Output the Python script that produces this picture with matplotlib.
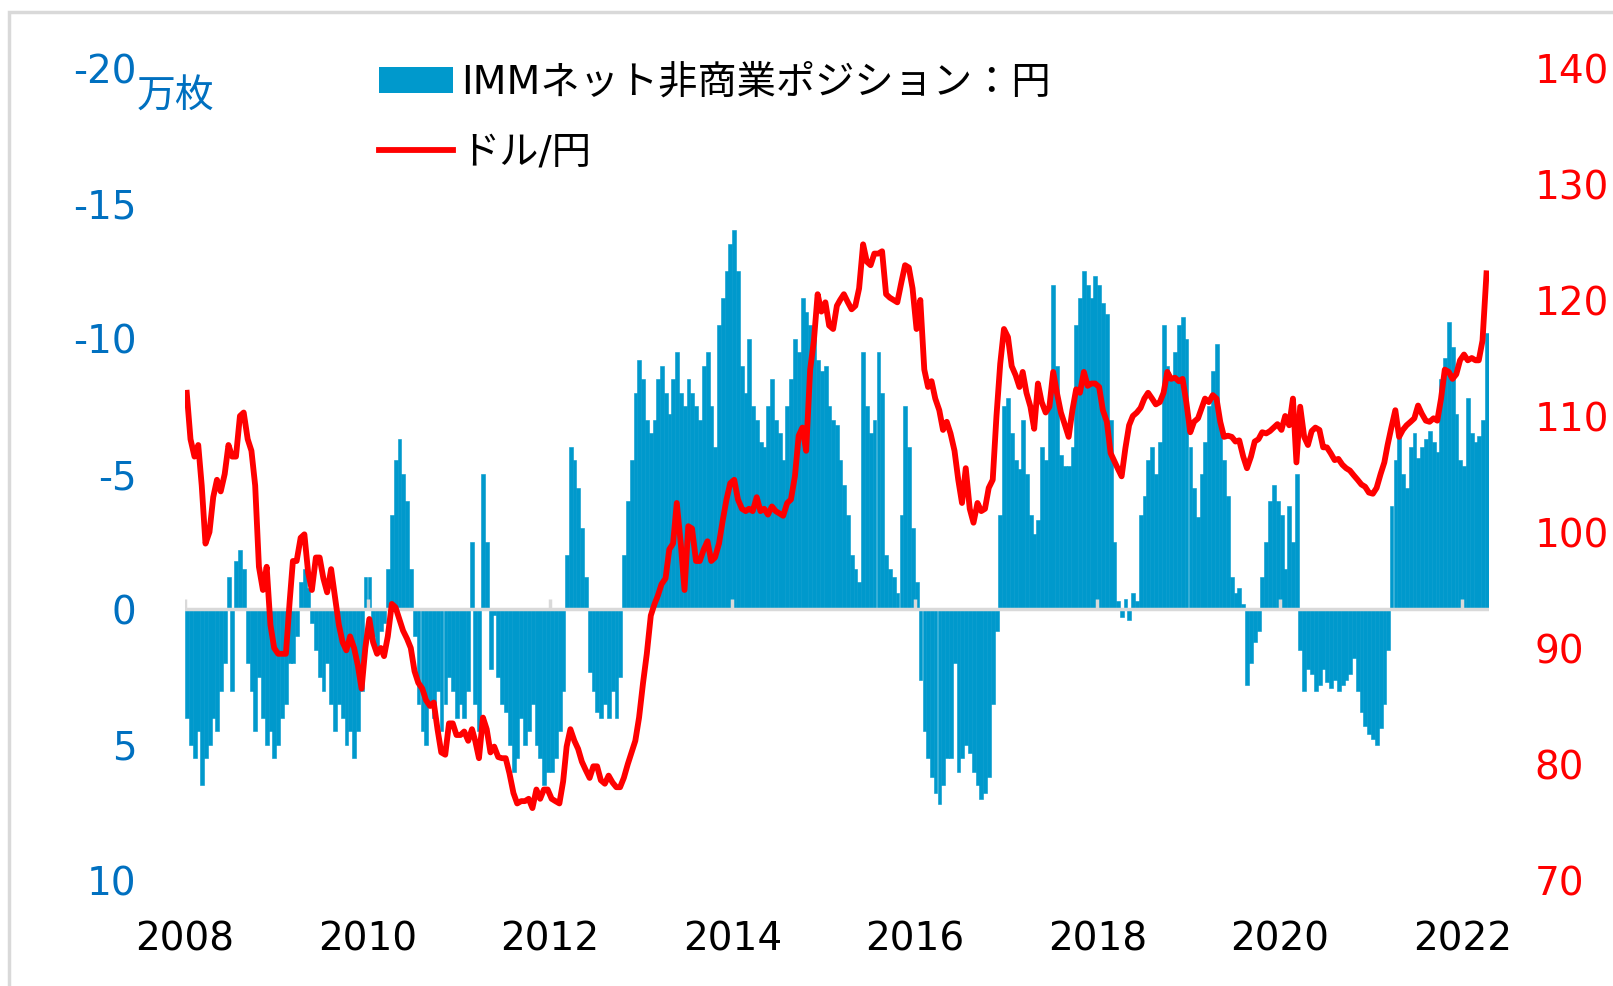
import matplotlib
matplotlib.use('Agg')
import matplotlib.pyplot as plt
import pandas as pd
from matplotlib.patches import Rectangle, Patch
from matplotlib.lines import Line2D

# 日本語フォント（数字・英字はDejaVu、かなはNoto CJK）
plt.rcParams['font.family'] = ['DejaVu Sans', 'Noto Sans CJK JP']
plt.rcParams['axes.unicode_minus'] = False

# IMM円ネット非商業ポジション（万枚, マイナス=円売り越し）, 半月ごと（1日・16日）
imm_net = [
    4, 5, 5.5, 4.5, 6.5, 5.5, 5, 4, 4.5, 3, 2, -1.2, 3, -1.8, -2.2, -1.5, 2, 3, 4.5, 2.5, 4, 5, 4.5, 5.5,  # 2008
    5, 4, 3.5, 2, 2, 1, -1, -1.5, -0.8, 0.5, 1.5, 2.5, 3, 2, 3.5, 4.5, 3.5, 4, 5, 4.5, 5.5, 4.5, 3, -1.2,  # 2009
    -1.2, 1, 1.5, 0.8, 0.5, -1.5, -3.5, -5.5, -6.3, -5, -4, -1.5, 1, 3.5, 4.5, 5, 3.5, 4, 3, 4.5, 3.5, 2.5, 3, 4,  # 2010
    3.5, 4, 3, -2.5, 3.5, 4.5, -5, -2.5, 2.2, 0.2, 2.5, 3.5, 3.8, 5, 6, 5.5, 4, 5, 4.5, 3.5, 5, 5.5, 6.5, 6,  # 2011
    6, 5.5, 4.5, 3, -2, -6, -5.5, -4.5, -3, -1.2, 2.3, 3, 3.8, 4, 3.5, 4, 3, 4, 2.5, -2, -4, -5.5, -8, -9.2,  # 2012
    -8.5, -7, -6.5, -7, -8.5, -9, -8, -7.2, -8.5, -9.5, -8, -7.5, -8.5, -8, -7.5, -7, -9, -9.5, -7.5, -6, -10.5, -11.5, -12.5, -13.5,  # 2013
    -14, -12.5, -9, -8, -10, -7.5, -7, -6.2, -6, -7.5, -8.5, -7, -6.5, -5.5, -7.5, -8.5, -10, -9.5, -11.5, -11, -10.5, -10, -9.2, -8.8,  # 2014
    -9, -7.5, -7, -6.8, -5.5, -4.6, -3.5, -2, -1.5, -1, -9.5, -7.5, -6.5, -7, -9.5, -8, -2, -1.5, -1.2, -0.6, -3.5, -7.5, -6, -3,  # 2015
    -1, 2.6, 4.5, 5.5, 6.2, 6.8, 7.2, 6.5, 5.5, 5.5, 2, 6, 5.5, 5, 5.3, 6, 6.5, 7, 6.8, 6.2, 3.5, 0.8, -3.5, -7.5,  # 2016
    -7.8, -6.5, -5.5, -5.2, -7, -5, -3.5, -2.8, -3.3, -6, -5.5, -7.5, -12, -9, -5.7, -5.3, -5.3, -6, -10.5, -11.5, -12.5, -12, -11.5, -12.3,  # 2017
    -12, -11.3, -10.9, -7, -2.5, -0.3, 0.3, -0.4, 0.4, -0.6, -0.3, -3.5, -4.2, -5.5, -6, -5, -6.2, -10.5, -9, -8.5, -9.5, -10.5, -10.8, -10,  # 2018
    -6, -4.5, -3.4, -5, -6.2, -7.5, -8.8, -9.8, -7, -5.5, -4.2, -1.2, -0.6, -0.8, -0.2, 2.8, 2, 1.2, 0.8, -1.2, -2.5, -4, -4.6, -4,  # 2019
    -3.5, -1.5, -3.8, -2.5, -5, 1.5, 3, 2.2, 2.4, 3, 2.8, 2.2, 2.7, 2.9, 2.6, 3, 2.8, 2.6, 2.4, 1.8, 3, 3.8, 4.3, 4.6,  # 2020
    4.8, 5, 4.4, 3.5, 1.5, -3.8, -5.5, -6.5, -5, -4.5, -6, -6.5, -5.6, -6, -6.3, -6.6, -6.2, -5.8, -8.5, -9.3, -10.6, -9.7, -7.2, -5.5,  # 2021
    -5.3, -7.8, -6.5, -6.2, -6.4, -7, -10.2,  # 2022
]

# ドル/円, 半月ごと
usdjpy = [
    112, 108, 106.5, 107.5, 104, 99, 100, 103, 104.5, 103.5, 105, 107.5, 106.5, 106.5, 110, 110.3, 108, 107, 104, 97, 95, 97, 92, 90,  # 2008
    89.5, 89.5, 89.5, 94, 97.5, 97.5, 99.5, 99.8, 96.5, 95, 97.8, 97.8, 96, 94.8, 96.8, 94.5, 92, 90.5, 89.8, 91, 90, 88.5, 86.5, 90,  # 2009
    92.5, 90.5, 89.5, 90, 89.3, 91, 93.8, 93.5, 92.5, 91.5, 90.8, 90, 88, 87, 86.5, 85.5, 85, 85.3, 83, 81, 80.8, 83.5, 83.5, 82.5,  # 2010
    82.5, 82.8, 82, 83, 82, 80.5, 84, 83, 81, 81.5, 80.6, 80.5, 80.5, 79.2, 77.5, 76.6, 76.8, 76.8, 77, 76.2, 77.8, 77, 77.8, 77.8,  # 2011
    77, 76.8, 76.6, 78.5, 81.5, 83, 82, 81.3, 80.2, 79.5, 78.8, 79.8, 79.8, 78.6, 78.3, 79, 78.4, 78, 78, 78.8, 80, 81, 82, 84,  # 2012
    87, 89.5, 92.8, 93.8, 94.5, 95.5, 96, 98.5, 99, 102.5, 99, 95, 100.5, 100.3, 97.5, 97.5, 98.5, 99.2, 97.5, 97.8, 99, 101, 102.8, 104.2,  # 2013
    104.5, 102.8, 102, 101.8, 102, 101.8, 103, 101.8, 102, 101.5, 102.2, 101.8, 101.6, 101.4, 102.5, 102.8, 104.8, 108.3, 109, 107, 114, 116.5, 120.5, 119,  # 2014
    119.8, 117.8, 117.5, 119.5, 120, 120.5, 119.8, 119.2, 119.5, 121, 124.8, 123.3, 123, 124, 124, 124.2, 120.5, 120.2, 120, 119.8, 121.5, 123, 122.8, 121,  # 2015
    117.5, 120, 114, 112.5, 113, 111.5, 110.5, 108.8, 109.5, 108.5, 107, 104.5, 102.5, 105.5, 102, 100.8, 102.5, 101.8, 102, 103.8, 104.5, 110, 114.5, 117.5,  # 2016
    116.8, 114.3, 113.5, 112.5, 113.8, 112, 110.8, 108.9, 112.8, 111.2, 110.3, 110.8, 113.8, 112, 110.3, 109.3, 108.2, 110.5, 112.3, 112, 113.8, 112.6, 112.8, 112.8,  # 2017
    112.5, 110.5, 109.5, 106.8, 106.2, 105.5, 104.8, 107.2, 109.2, 110, 110.3, 110.7, 111.5, 112, 111.5, 111, 111.2, 112, 113.8, 113.2, 113.3, 113, 113.2, 111.2,  # 2018
    108.6, 109.5, 109.8, 110.7, 111.5, 111.2, 111.8, 111.5, 109.5, 108.2, 108.3, 108.2, 107.8, 107.9, 106.5, 105.5, 106.5, 107.8, 108, 108.6, 108.5, 108.7, 109, 109.3,  # 2019
    108.8, 110, 109.2, 111.5, 106, 110.8, 108.2, 107.5, 108.7, 109, 108.8, 107.3, 107.3, 106.8, 106.2, 106.3, 105.8, 105.5, 105.3, 104.9, 104.5, 104.1, 103.9, 103.4,  # 2020
    103.3, 103.8, 105, 106, 107.5, 109, 110.5, 108.2, 108.8, 109.2, 109.5, 109.8, 110.9, 110.2, 109.6, 109.5, 109.8, 109.6, 111.5, 114, 113.8, 113.2, 113.6, 114.8,  # 2021
    115.3, 114.8, 115, 114.8, 114.8, 116.5, 122.3,  # 2022
]

tick_years = [2008, 2010, 2012, 2014, 2016, 2018, 2020, 2022]
left_ticks = [-20, -15, -10, -5, 0, 5, 10]
right_ticks = [70, 80, 90, 100, 110, 120, 130, 140]

months = pd.date_range('2008-01-01', '2022-04-01', freq='MS')
dates = sorted(list(months) + list(months + pd.Timedelta(days=15)))[:len(imm_net)]
line_dates = [d + pd.Timedelta(days=7) for d in dates]

BLUE_BAR = '#0099CC'
BLUE_TXT = '#0070C0'
RED = '#FF0000'
GRAY = '#D9D9D9'

W, H = 1613, 986
fig = plt.figure(figsize=(W / 100, H / 100), dpi=100)
fig.patch.set_facecolor('white')

# 外枠
fig.patches.append(Rectangle((9 / W, -0.05), 1.2, (H - 12) / H + 0.05, transform=fig.transFigure,
                             fill=False, edgecolor=GRAY, linewidth=2.5))

ax = fig.add_axes([185 / W, 1 - 880 / H, (1489 - 185) / W, (880 - 68) / H])
ax.bar(dates, imm_net, width=15.5, align='edge', color=BLUE_BAR,
       edgecolor=BLUE_BAR, linewidth=0.4, zorder=1)

tick_dates = [pd.Timestamp(f'{y}-01-01') for y in tick_years]
ax.axhline(0, color=GRAY, lw=2.5, zorder=2)
ax.vlines(tick_dates, 0, -0.38, color=GRAY, lw=2.5, zorder=2)

ax.set_xlim(pd.Timestamp('2008-01-01'), pd.Timestamp('2022-04-18'))
ax.set_ylim(10, -20)
ax.set_yticks(left_ticks)
ax.set_yticklabels([str(v) for v in left_ticks])
ax.set_xticks(tick_dates)
ax.set_xticklabels([str(y) for y in tick_years])
ax.tick_params(axis='x', length=0, pad=29, labelsize=28, labelcolor='black')
ax.tick_params(axis='y', length=0, pad=35, labelsize=28, labelcolor=BLUE_TXT)
for s in ax.spines.values():
    s.set_visible(False)

ax2 = ax.twinx()
ax2.plot(line_dates, usdjpy, color=RED, lw=4.2, zorder=3, solid_joinstyle='round')
ax2.set_ylim(70, 140)
ax2.set_yticks(right_ticks)
ax2.set_yticklabels([str(v) for v in right_ticks])
ax2.tick_params(axis='y', length=0, pad=33, labelsize=28, labelcolor=RED)
for s in ax2.spines.values():
    s.set_visible(False)

fig.text(137 / W, 1 - 97 / H, '万枚', color=BLUE_TXT, fontsize=28, ha='left', va='center')

handles = [Patch(facecolor=BLUE_BAR, edgecolor='none'), Line2D([], [], color=RED, lw=4.2)]
labels = ['IMMネット非商業ポジション：円', 'ドル/円']
ax2.legend(handles, labels, loc='upper left', bbox_to_anchor=(379 / W, 1 - 64 / H),
           bbox_transform=fig.transFigure, frameon=False, fontsize=28.3,
           handlelength=1.88, handleheight=0.66, handletextpad=0.2,
           labelspacing=0.8, borderpad=0, borderaxespad=0)

fig.savefig('out.png', dpi=100)
